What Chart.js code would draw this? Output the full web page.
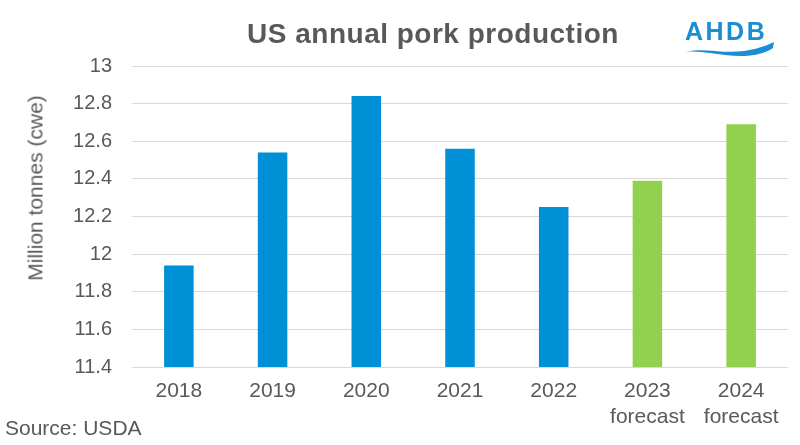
<!DOCTYPE html>
<html>
<head>
<meta charset="utf-8">
<script src="https://cdn.jsdelivr.net/npm/chart.js@4/dist/chart.umd.min.js"></script>
<style>
  html, body { margin: 0; padding: 0; background: #ffffff; }
  #wrap { position: relative; width: 800px; height: 445px; background: #ffffff; overflow: hidden; font-family: "Liberation Sans", Arial, sans-serif; }
  #c { position: absolute; left: 0; top: 0; }
  .txt { position: absolute; white-space: nowrap; color: #595959; }
  #title { left: 433px; top: 20px; transform: translateX(-50%); font-size: 28px; line-height: 28px; font-weight: bold; letter-spacing: 0.5px; }
  #source { left: 5px; top: 417px; font-size: 21px; line-height: 21px; }
  #ytitle { left: 35px; top: 188px; transform: translate(-50%, -50%) rotate(-90deg); font-size: 21px; line-height: 21px; }
  #logo { position: absolute; left: 684px; top: 17px; width: 95px; height: 42px; }
  #logoText { position: absolute; left: 1px; top: 2px; font-size: 25px; line-height: 25px; font-weight: bold; color: #1a8dd4; letter-spacing: 2.5px; }
  #logoWave { position: absolute; left: 0; top: 24px; }
</style>
</head>
<body>
<div id="wrap">
  <canvas id="c" width="800" height="445"></canvas>
  <div class="txt" id="title">US annual pork production</div>
  <div class="txt" id="ytitle">Million tonnes (cwe)</div>
  <div class="txt" id="source">Source: USDA</div>
  <div id="logo">
    <div id="logoText">AHDB</div>
    <svg id="logoWave" width="95" height="18" viewBox="0 0 95 18">
      <path d="M1 11 C 18 6, 38 13, 60 10 C 74 8, 84 4, 90 1 L 89 7 C 82 12, 70 15, 56 15 C 36 15, 18 9, 1 11 Z" fill="#1a8dd4"/>
    </svg>
  </div>
</div>
<script>
const categories = [["2018"], ["2019"], ["2020"], ["2021"], ["2022"], ["2023", "forecast"], ["2024", "forecast"]];
const production = [11.94, 12.54, 12.84, 12.56, 12.25, 12.39, 12.69];
const forecastFlags = [false, false, false, false, false, true, true];
const yTicks = [11.4, 11.6, 11.8, 12, 12.2, 12.4, 12.6, 12.8, 13];

const BLUE = "#0090d5";
const GREEN = "#92d050";
const TEXT = "#595959";

new Chart(document.getElementById("c"), {
  type: "bar",
  data: {
    labels: categories,
    datasets: [{
      data: production,
      backgroundColor: (ctx) => forecastFlags[ctx.dataIndex] ? GREEN : BLUE,
      borderWidth: 0,
      categoryPercentage: 1,
      barPercentage: 0.315
    }]
  },
  options: {
    responsive: false,
    animation: false,
    devicePixelRatio: 1,
    layout: { padding: { top: 66, right: 12, bottom: 0, left: 0 } },
    plugins: { legend: { display: false }, tooltip: { enabled: false }, title: { display: false } },
    scales: {
      x: {
        grid: { display: false, drawTicks: false },
        border: { display: false },
        ticks: {
          color: TEXT,
          font: { family: "'Liberation Sans', Arial, sans-serif", size: 21, lineHeight: 1.24 },
          padding: 11,
          maxRotation: 0,
          autoSkip: false
        },
        afterFit: (s) => { s.height = 78; }
      },
      y: {
        min: yTicks[0],
        max: yTicks[yTicks.length - 1],
        afterBuildTicks: (s) => { s.ticks = yTicks.map(v => ({ value: v })); },
        grid: { color: "#d9d9d9", lineWidth: 1, drawTicks: false },
        border: { display: false },
        ticks: {
          color: TEXT,
          font: { family: "'Liberation Sans', Arial, sans-serif", size: 20 },
          padding: 20,
          callback: (v) => String(Math.round(v * 10) / 10)
        },
        afterFit: (s) => { s.width = 132; }
      }
    }
  }
});
</script>
</body>
</html>
